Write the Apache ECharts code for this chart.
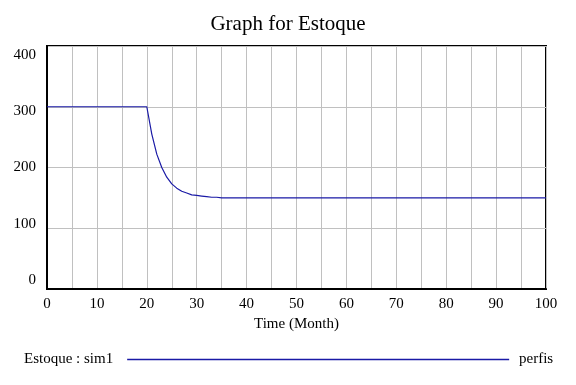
<!DOCTYPE html>
<html>
<head>
<meta charset="utf-8">
<script src="https://cdn.jsdelivr.net/npm/echarts@6/dist/echarts.min.js"></script>
<style>html,body{margin:0;padding:0;background:#fff}#c{width:576px;height:385px}</style>
</head>
<body>
<div id="c"></div>
<script>
var times = [0, 20, 21, 22, 23, 24, 25, 26, 27, 28, 29, 30, 31, 32, 33, 34, 35, 36, 100];
var estoque = [300, 300, 255, 222, 200, 184, 173, 166, 161, 158, 155, 154, 153, 152, 151, 151, 150, 150, 150];
var xTickLabels = [0, 10, 20, 30, 40, 50, 60, 70, 80, 90, 100];
var yTickLabels = [0, 100, 200, 300, 400];
var seriesName = 'Estoque : sim1';
var unitsLabel = 'perfis';

var font = "'Liberation Serif', 'Times New Roman', serif";
var chart = echarts.init(document.getElementById('c'), null, {renderer: 'canvas'});
chart.setOption({
  backgroundColor: '#fff',
  animation: false,
  title: [
    {text: 'Graph for Estoque', left: 'center', top: 9,
     textStyle: {fontFamily: font, fontSize: 21, fontWeight: 'normal', color: '#000'}},
    {text: unitsLabel, left: 514, top: 347,
     textStyle: {fontFamily: font, fontSize: 15, fontWeight: 'normal', color: '#000'}}
  ],
  legend: {
    left: 19, top: 347, align: 'right', icon: 'rect', itemWidth: 382, itemHeight: 1.3,
    textStyle: {fontFamily: font, fontSize: 15, color: '#000', padding: [0, 9, 0, 0]},
    data: [seriesName]
  },
  grid: {left: 47, right: 30, top: 46, bottom: 96, show: true, borderColor: '#000', borderWidth: 2, containLabel: false},
  xAxis: {
    type: 'value', min: 0, max: 100, interval: 5,
    name: 'Time (Month)', nameLocation: 'middle', nameGap: 28,
    nameTextStyle: {fontFamily: font, fontSize: 15, color: '#000'},
    axisLine: {show: true, lineStyle: {color: '#000', width: 2}},
    axisTick: {show: false},
    axisLabel: {customValues: xTickLabels, fontFamily: font, fontSize: 15, color: '#000', margin: 8},
    splitLine: {show: true, lineStyle: {color: '#c0c0c0', width: 1}}
  },
  yAxis: [
    {type: 'value', min: 0, max: 400, interval: 100,
     axisLine: {show: true, lineStyle: {color: '#000', width: 2}},
     axisTick: {show: false}, axisLabel: {show: false},
     splitLine: {show: true, lineStyle: {color: '#c0c0c0', width: 1}}},
    {type: 'value', min: -16, max: 416, position: 'left',
     axisLine: {show: false}, axisTick: {show: false}, splitLine: {show: false},
     axisLabel: {customValues: yTickLabels, fontFamily: font, fontSize: 15, color: '#000', margin: 11}}
  ],
  series: [{
    name: seriesName, type: 'line', yAxisIndex: 0, symbol: 'none', smooth: false,
    color: '#1a1aa6', lineStyle: {color: '#1a1aa6', width: 1.2},
    data: times.map(function (t, i) { return [t, estoque[i]]; })
  }]
});
</script>
</body>
</html>
